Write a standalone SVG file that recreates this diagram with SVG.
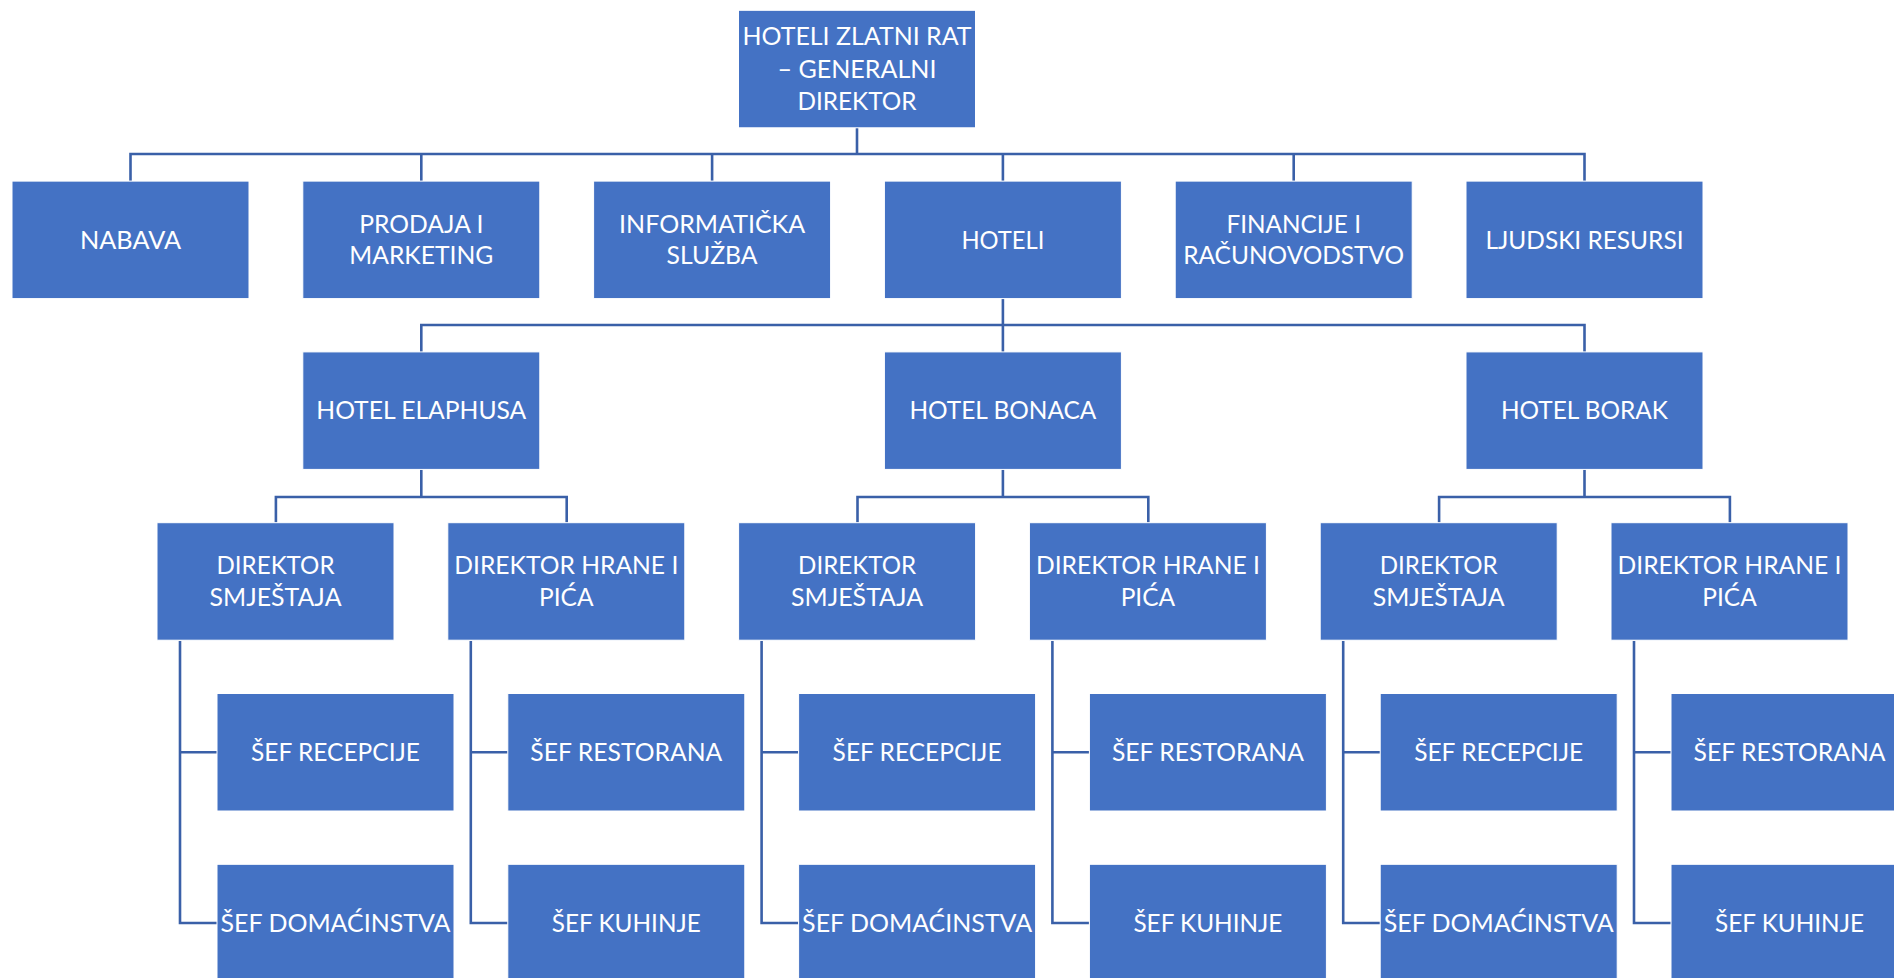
<svg xmlns="http://www.w3.org/2000/svg" width="1894" height="978" viewBox="0 0 1894 978">
<style>
.b{fill:#4472C4;stroke:#ffffff;stroke-width:1}
.t{font-family:Lato,"Open Sans","Liberation Sans",sans-serif;font-size:25.5px;fill:#ffffff;text-anchor:middle}
.c{fill:none;stroke:#3A60A8;stroke-width:2.6}
</style>
<rect width="1894" height="978" fill="#ffffff"/>
<g id="connectors" class="c">
<path d="M857 127.8V154M130.5 181.1V154H1584.5V181.1M421.3 154V181.1M712.1 154V181.1M1002.9 154V181.1M1293.7 154V181.1"/>
<path d="M1002.9 298.6V351.9M421.3 351.9V325H1584.5V351.9"/>
<path d="M421.3 469.4V497M275.9 522.7V497H566.7V522.7"/>
<path d="M1002.9 469.4V497M857.5 522.7V497H1148.3V522.7"/>
<path d="M1584.5 469.4V497M1439.1 522.7V497H1729.9V522.7"/>
<path d="M180 641V923H217M180 752.25H217"/>
<path d="M470.8 641V923H507.8M470.8 752.25H507.8"/>
<path d="M761.6 641V923H798.6M761.6 752.25H798.6"/>
<path d="M1052.4 641V923H1089.4M1052.4 752.25H1089.4"/>
<path d="M1343.2 641V923H1380.2M1343.2 752.25H1380.2"/>
<path d="M1634 641V923H1671M1634 752.25H1671"/>
</g>
<g id="root"><rect class="b" x="738.5" y="10.3" width="237" height="117.5"/>
<text class="t" x="857" y="45.3" textLength="229" lengthAdjust="spacingAndGlyphs">HOTELI ZLATNI RAT</text>
<text class="t" x="857" y="77.8" textLength="159" lengthAdjust="spacingAndGlyphs">– GENERALNI</text>
<text class="t" x="857" y="110" textLength="119" lengthAdjust="spacingAndGlyphs">DIREKTOR</text></g>
<g id="nabava"><rect class="b" x="12" y="181.1" width="237" height="117.5"/>
<text class="t" x="130.5" y="248.5" textLength="101" lengthAdjust="spacingAndGlyphs">NABAVA</text></g>
<g id="prodaja"><rect class="b" x="302.8" y="181.1" width="237" height="117.5"/>
<text class="t" x="421.3" y="232.5" textLength="124" lengthAdjust="spacingAndGlyphs">PRODAJA I</text>
<text class="t" x="421.3" y="264.2" textLength="144" lengthAdjust="spacingAndGlyphs">MARKETING</text></g>
<g id="informaticka"><rect class="b" x="593.6" y="181.1" width="237" height="117.5"/>
<text class="t" x="712.1" y="232.5" textLength="186" lengthAdjust="spacingAndGlyphs">INFORMATIČKA</text>
<text class="t" x="712.1" y="264.2" textLength="91" lengthAdjust="spacingAndGlyphs">SLUŽBA</text></g>
<g id="hoteli"><rect class="b" x="884.4" y="181.1" width="237" height="117.5"/>
<text class="t" x="1002.9" y="248.5" textLength="83" lengthAdjust="spacingAndGlyphs">HOTELI</text></g>
<g id="financije"><rect class="b" x="1175.2" y="181.1" width="237" height="117.5"/>
<text class="t" x="1293.7" y="232.5" textLength="134.5" lengthAdjust="spacingAndGlyphs">FINANCIJE I</text>
<text class="t" x="1293.7" y="264.2" textLength="221" lengthAdjust="spacingAndGlyphs">RAČUNOVODSTVO</text></g>
<g id="ljudski"><rect class="b" x="1466" y="181.1" width="237" height="117.5"/>
<text class="t" x="1584.5" y="248.5" textLength="198" lengthAdjust="spacingAndGlyphs">LJUDSKI RESURSI</text></g>
<g id="elaphusa"><rect class="b" x="302.8" y="351.9" width="237" height="117.5"/>
<text class="t" x="421.3" y="419.3" textLength="210" lengthAdjust="spacingAndGlyphs">HOTEL ELAPHUSA</text></g>
<g id="bonaca"><rect class="b" x="884.4" y="351.9" width="237" height="117.5"/>
<text class="t" x="1002.9" y="419.3" textLength="187" lengthAdjust="spacingAndGlyphs">HOTEL BONACA</text></g>
<g id="borak"><rect class="b" x="1466" y="351.9" width="237" height="117.5"/>
<text class="t" x="1584.5" y="419.3" textLength="167" lengthAdjust="spacingAndGlyphs">HOTEL BORAK</text></g>
<g id="elaphusa-smjestaj"><rect class="b" x="157" y="522.7" width="237" height="117.5"/>
<text class="t" x="275.5" y="574" textLength="118" lengthAdjust="spacingAndGlyphs">DIREKTOR</text>
<text class="t" x="275.5" y="605.7" textLength="132" lengthAdjust="spacingAndGlyphs">SMJEŠTAJA</text></g>
<g id="elaphusa-hrana"><rect class="b" x="447.8" y="522.7" width="237" height="117.5"/>
<text class="t" x="566.3" y="574" textLength="224" lengthAdjust="spacingAndGlyphs">DIREKTOR HRANE I</text>
<text class="t" x="566.3" y="605.7" textLength="54.5" lengthAdjust="spacingAndGlyphs">PIĆA</text></g>
<g id="bonaca-smjestaj"><rect class="b" x="738.6" y="522.7" width="237" height="117.5"/>
<text class="t" x="857.1" y="574" textLength="118" lengthAdjust="spacingAndGlyphs">DIREKTOR</text>
<text class="t" x="857.1" y="605.7" textLength="132" lengthAdjust="spacingAndGlyphs">SMJEŠTAJA</text></g>
<g id="bonaca-hrana"><rect class="b" x="1029.4" y="522.7" width="237" height="117.5"/>
<text class="t" x="1147.9" y="574" textLength="224" lengthAdjust="spacingAndGlyphs">DIREKTOR HRANE I</text>
<text class="t" x="1147.9" y="605.7" textLength="54.5" lengthAdjust="spacingAndGlyphs">PIĆA</text></g>
<g id="borak-smjestaj"><rect class="b" x="1320.2" y="522.7" width="237" height="117.5"/>
<text class="t" x="1438.7" y="574" textLength="118" lengthAdjust="spacingAndGlyphs">DIREKTOR</text>
<text class="t" x="1438.7" y="605.7" textLength="132" lengthAdjust="spacingAndGlyphs">SMJEŠTAJA</text></g>
<g id="borak-hrana"><rect class="b" x="1611" y="522.7" width="237" height="117.5"/>
<text class="t" x="1729.5" y="574" textLength="224" lengthAdjust="spacingAndGlyphs">DIREKTOR HRANE I</text>
<text class="t" x="1729.5" y="605.7" textLength="54.5" lengthAdjust="spacingAndGlyphs">PIĆA</text></g>
<g id="elaphusa-recepcija"><rect class="b" x="217" y="693.5" width="237" height="117.5"/>
<text class="t" x="335.5" y="761" textLength="169" lengthAdjust="spacingAndGlyphs">ŠEF RECEPCIJE</text></g>
<g id="elaphusa-domacinstvo"><rect class="b" x="217" y="864.3" width="237" height="117.5"/>
<text class="t" x="335.5" y="931.8" textLength="230" lengthAdjust="spacingAndGlyphs">ŠEF DOMAĆINSTVA</text></g>
<g id="elaphusa-restoran"><rect class="b" x="507.8" y="693.5" width="237" height="117.5"/>
<text class="t" x="626.3" y="761" textLength="192" lengthAdjust="spacingAndGlyphs">ŠEF RESTORANA</text></g>
<g id="elaphusa-kuhinja"><rect class="b" x="507.8" y="864.3" width="237" height="117.5"/>
<text class="t" x="626.3" y="931.8" textLength="149" lengthAdjust="spacingAndGlyphs">ŠEF KUHINJE</text></g>
<g id="bonaca-recepcija"><rect class="b" x="798.6" y="693.5" width="237" height="117.5"/>
<text class="t" x="917.1" y="761" textLength="169" lengthAdjust="spacingAndGlyphs">ŠEF RECEPCIJE</text></g>
<g id="bonaca-domacinstvo"><rect class="b" x="798.6" y="864.3" width="237" height="117.5"/>
<text class="t" x="917.1" y="931.8" textLength="230" lengthAdjust="spacingAndGlyphs">ŠEF DOMAĆINSTVA</text></g>
<g id="bonaca-restoran"><rect class="b" x="1089.4" y="693.5" width="237" height="117.5"/>
<text class="t" x="1207.9" y="761" textLength="192" lengthAdjust="spacingAndGlyphs">ŠEF RESTORANA</text></g>
<g id="bonaca-kuhinja"><rect class="b" x="1089.4" y="864.3" width="237" height="117.5"/>
<text class="t" x="1207.9" y="931.8" textLength="149" lengthAdjust="spacingAndGlyphs">ŠEF KUHINJE</text></g>
<g id="borak-recepcija"><rect class="b" x="1380.2" y="693.5" width="237" height="117.5"/>
<text class="t" x="1498.7" y="761" textLength="169" lengthAdjust="spacingAndGlyphs">ŠEF RECEPCIJE</text></g>
<g id="borak-domacinstvo"><rect class="b" x="1380.2" y="864.3" width="237" height="117.5"/>
<text class="t" x="1498.7" y="931.8" textLength="230" lengthAdjust="spacingAndGlyphs">ŠEF DOMAĆINSTVA</text></g>
<g id="borak-restoran"><rect class="b" x="1671" y="693.5" width="237" height="117.5"/>
<text class="t" x="1789.5" y="761" textLength="192" lengthAdjust="spacingAndGlyphs">ŠEF RESTORANA</text></g>
<g id="borak-kuhinja"><rect class="b" x="1671" y="864.3" width="237" height="117.5"/>
<text class="t" x="1789.5" y="931.8" textLength="149" lengthAdjust="spacingAndGlyphs">ŠEF KUHINJE</text></g>
</svg>
